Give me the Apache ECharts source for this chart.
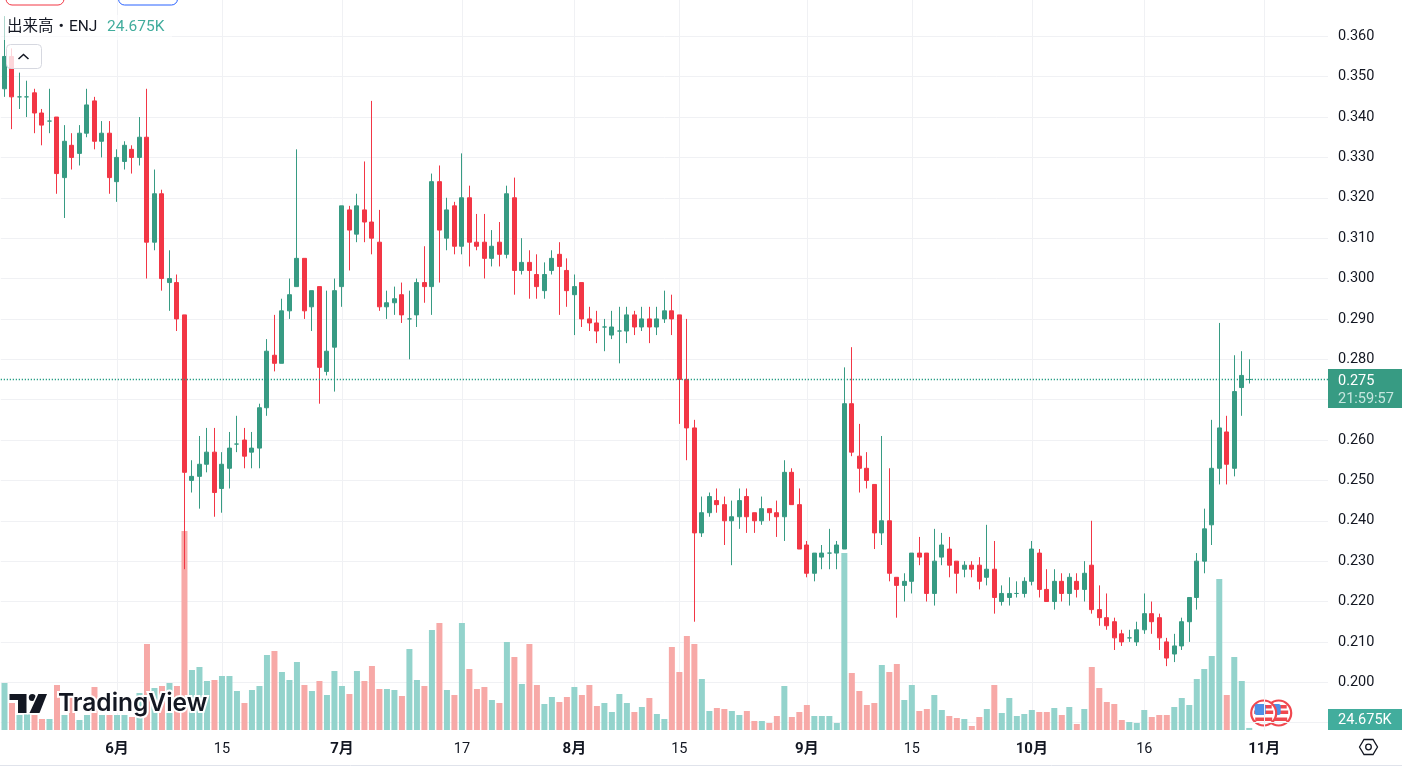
<!DOCTYPE html>
<html>
<head>
<meta charset="utf-8">
<style>
  html, body { margin: 0; padding: 0; background: #fff; }
  #chart { width: 1402px; height: 767px; }
</style>
<script src="https://cdn.jsdelivr.net/npm/echarts@6/dist/echarts.min.js"></script>
</head>
<body>
<div id="chart"></div>
<script>
// ENJ daily candles, first candle is May 17
const opens = [.347,.355,.345,.345,.346,.341,.339,.340,.325,.333,.331,.336,.344,.334,.336,.324,.329,.332,.330,.335,.309,.321,.299,.299,.291,.250,.251,.254,.257,.248,.253,.259,.260,.257,.258,.268,.281,.279,.292,.298,.305,.293,.298,.277,.283,.298,.317,.311,.317,.314,.309,.293,.294,.296,.290,.291,.299,.298,.324,.310,.318,.308,.320,.309,.309,.305,.309,.306,.320,.302,.304,.301,.297,.302,.306,.302,.296,.299,.290,.289,.288,.286,.287,.287,.291,.288,.290,.288,.290,.292,.291,.275,.263,.237,.242,.245,.244,.240,.241,.246,.242,.240,.243,.242,.241,.252,.244,.234,.227,.231,.232,.232,.233,.269,.256,.253,.249,.237,.240,.226,.224,.225,.232,.232,.222,.231,.233,.230,.228,.229,.229,.226,.228,.220,.221,.222,.222,.225,.232,.223,.220,.225,.222,.225,.223,.229,.218,.216,.215,.212,.211,.210,.213,.217,.216,.210,.207,.209,.215,.221,.230,.239,.253,.262,.253,.273,.275];
const closes = [.355,.345,.345,.345,.341,.338,.339,.326,.334,.330,.336,.343,.334,.336,.325,.330,.333,.330,.335,.309,.321,.300,.300,.290,.252,.251,.254,.257,.247,.254,.258,.259,.256,.258,.268,.282,.279,.292,.296,.305,.292,.297,.278,.282,.297,.318,.312,.318,.314,.310,.293,.294,.295,.291,.290,.299,.298,.324,.312,.317,.308,.320,.309,.308,.305,.308,.306,.321,.302,.304,.302,.298,.301,.305,.303,.297,.298,.290,.289,.287,.288,.288,.287,.291,.288,.290,.288,.290,.292,.290,.275,.263,.237,.242,.246,.244,.240,.241,.245,.241,.240,.243,.242,.241,.252,.244,.233,.227,.232,.232,.232,.234,.269,.257,.253,.250,.237,.240,.227,.224,.225,.232,.231,.222,.230,.234,.229,.227,.229,.228,.225,.228,.221,.222,.222,.222,.225,.233,.223,.220,.225,.222,.226,.223,.227,.218,.216,.214,.211,.210,.211,.213,.217,.215,.211,.206,.209,.215,.221,.230,.238,.253,.263,.254,.272,.276,.275];
const lows = [.345,.337,.342,.340,.336,.333,.336,.321,.315,.327,.328,.335,.332,.330,.321,.319,.327,.326,.328,.300,.307,.297,.292,.287,.228,.247,.243,.252,.241,.242,.248,.257,.253,.253,.253,.266,.277,.279,.290,.298,.290,.287,.269,.276,.272,.293,.302,.309,.309,.306,.292,.290,.291,.289,.280,.288,.294,.291,.299,.307,.306,.306,.303,.307,.300,.303,.303,.305,.296,.301,.295,.295,.295,.301,.291,.293,.286,.288,.287,.284,.282,.285,.279,.284,.286,.287,.284,.286,.289,.286,.264,.255,.215,.236,.241,.242,.234,.229,.238,.237,.237,.239,.240,.236,.235,.244,.233,.226,.225,.228,.228,.228,.233,.256,.247,.248,.233,.234,.225,.216,.220,.222,.229,.220,.219,.229,.226,.222,.226,.226,.223,.224,.217,.219,.219,.221,.221,.224,.221,.220,.218,.220,.219,.221,.220,.217,.214,.213,.208,.209,.210,.209,.212,.212,.208,.204,.205,.208,.210,.218,.227,.234,.249,.249,.251,.266,.274];
const highs = [.365,.357,.351,.349,.347,.342,.347,.340,.338,.336,.338,.347,.345,.339,.339,.332,.334,.333,.340,.347,.327,.322,.307,.301,.291,.255,.261,.263,.263,.257,.262,.266,.263,.262,.269,.285,.291,.295,.300,.332,.305,.297,.298,.297,.300,.318,.318,.321,.329,.344,.317,.297,.298,.299,.297,.300,.308,.326,.328,.320,.319,.331,.323,.316,.316,.312,.314,.323,.325,.310,.307,.306,.304,.307,.309,.305,.301,.299,.293,.292,.290,.292,.293,.293,.292,.293,.293,.293,.297,.296,.291,.290,.265,.246,.247,.248,.246,.245,.248,.248,.242,.246,.243,.245,.255,.253,.248,.235,.232,.234,.238,.235,.278,.283,.264,.257,.249,.261,.253,.226,.227,.232,.236,.232,.238,.237,.236,.230,.230,.230,.231,.239,.235,.224,.226,.225,.226,.235,.233,.228,.228,.227,.227,.227,.230,.240,.224,.222,.216,.213,.213,.215,.222,.220,.217,.211,.212,.216,.221,.232,.243,.265,.289,.266,.281,.282,.280];
const volumes = [564,324,180,204,180,132,132,540,180,432,120,180,516,180,180,180,180,156,444,1032,504,528,564,528,2388,720,756,588,600,648,648,468,324,480,528,900,948,696,600,816,540,468,588,420,708,528,432,708,588,768,492,492,480,408,972,600,528,1200,1284,480,420,1284,732,492,516,360,324,1056,876,552,1032,540,312,396,336,396,516,420,540,288,324,216,432,324,216,276,384,192,132,996,696,1128,1032,612,228,264,252,228,180,228,108,108,84,168,528,156,216,300,168,168,168,84,2124,684,468,300,324,780,696,792,360,540,228,252,420,240,168,144,132,48,156,252,540,204,384,168,192,240,216,216,264,180,276,72,252,756,504,336,312,120,96,84,240,156,180,180,276,384,300,612,732,888,1812,420,876,588,24.675];

const tickIndex = [15, 29, 45, 61, 76, 90, 107, 121, 137, 152, 168];
const tickLabels = ['6月', '15', '7月', '17', '8月', '15', '9月', '15', '10月', '16', '11月'];
const priceLabels = [.20, .21, .22, .23, .24, .25, .26, .28, .29, .30, .31, .32, .33, .34, .35, .36];
const priceLines = [.19, .20, .21, .22, .23, .24, .25, .26, .27, .28, .29, .30, .31, .32, .33, .34, .35, .36];
const lastPrice = 0.275;

// categories run past the last candle, up to the right edge of the plot
const categories = [];
for (let i = 0; i < 177; i++) {
  const d = new Date(2025, 4, 17 + i);
  categories.push((d.getMonth() + 1) + '/' + d.getDate());
}

const UP = '#379b83', DOWN = '#f23645';
const VOL_UP = '#93d3cc', VOL_DOWN = '#f7a9a7';
const INK = '#131722', GRID = '#f0f1f4';
const FONT = 'Roboto, "Noto Sans CJK JP", sans-serif';

const candleData = opens.map((o, i) => [o, closes[i], lows[i], highs[i]]);
const volumeData = volumes.map((v, i) => ({
  value: v,
  itemStyle: { color: closes[i] >= opens[i] ? VOL_UP : VOL_DOWN }
}));

const isTick = i => tickIndex.includes(i);

const chart = echarts.init(document.getElementById('chart'));

// flag badge, stripes are just short rects inside the circle
const flag = cx => ({
  type: 'group', x: cx, y: 713, z: 50, children: [
    { type: 'circle', shape: { r: 12.5 }, style: { fill: '#fff', stroke: '#f0484f', lineWidth: 2.2 } },
    { type: 'rect', shape: { x: -7, y: -8, width: 15, height: 3.5 }, style: { fill: '#f0484f' } },
    { type: 'rect', shape: { x: -9.5, y: -2.5, width: 19, height: 3.5 }, style: { fill: '#f0484f' } },
    { type: 'rect', shape: { x: -8.5, y: 4.5, width: 17, height: 3.5 }, style: { fill: '#f0484f' } },
    { type: 'rect', shape: { x: -9, y: -9, width: 11, height: 11, r: 2 }, style: { fill: '#4d8fe6' } }
  ]
});

const option = {
  animation: false,
  backgroundColor: '#fff',
  textStyle: { fontFamily: FONT },
  grid: { left: 0.75, right: 74, top: 0, bottom: 37 },
  xAxis: {
    type: 'category',
    data: categories,
    boundaryGap: true,
    axisLine: { show: false },
    axisTick: { show: false, alignWithLabel: true, interval: isTick },
    splitLine: { show: true, alignWithLabel: true, interval: isTick, lineStyle: { color: GRID, width: 1 } },
    axisLabel: {
      interval: isTick,
      margin: 12,
      fontSize: 14.5,
      color: INK,
      formatter: (value, index) => {
        const label = tickLabels[tickIndex.indexOf(index)];
        return label.endsWith('月') ? '{m|' + label + '}' : label;
      },
      rich: { m: { fontSize: 15, fontWeight: 700, color: INK, fontFamily: FONT } }
    }
  },
  yAxis: [
    {
      type: 'value',
      position: 'right',
      min: 0.18818,
      max: 0.36899,
      axisLine: { show: false },
      axisTick: { show: false, customValues: priceLines },
      splitLine: { show: true, lineStyle: { color: GRID, width: 1 } },
      axisLabel: {
        customValues: priceLabels,
        margin: 10,
        fontSize: 14.5,
        color: INK,
        padding: [3, 0, 0, 0],
        formatter: v => v.toFixed(3)
      }
    },
    {
      // volume scale, sits on the same plot but never shows
      type: 'value',
      min: 0,
      max: 8760,
      show: false,
      splitLine: { show: false }
    }
  ],
  series: [
    {
      name: 'volume',
      type: 'bar',
      yAxisIndex: 1,
      data: volumeData,
      barWidth: 6,
      z: 1,
      silent: true
    },
    {
      name: 'ENJ',
      type: 'candlestick',
      yAxisIndex: 0,
      data: candleData,
      barWidth: 4.5,
      z: 2,
      silent: true,
      itemStyle: {
        color: UP, color0: DOWN,
        borderColor: UP, borderColor0: DOWN, borderColorDoji: UP,
        borderWidth: 1
      },
      markLine: {
        silent: true,
        symbol: 'none',
        animation: false,
        precision: 3,
        lineStyle: { color: '#1f9a80', width: 1.4, type: [1.2, 1.8] },
        data: [{ yAxis: lastPrice }],
        label: {
          show: true,
          position: 'end',
          distance: 0,
          offset: [0, 9],
          formatter: '{p|' + lastPrice.toFixed(3) + '}\n{t|21:59:57}',
          backgroundColor: UP,
          padding: [3, 0, 0, 10],
          width: 64,
          height: 36,
          align: 'left',
          rich: {
            p: { color: '#fff', fontSize: 14.5, lineHeight: 18, fontFamily: FONT },
            t: { color: '#c6e6df', fontSize: 14.5, lineHeight: 18, fontFamily: FONT }
          }
        }
      }
    }
  ],
  graphic: [
    // header bits that stick out over the chart
    { type: 'rect', z: 40, shape: { x: 6, y: -20, width: 58, height: 25, r: 6 }, style: { fill: '#fff', stroke: '#f23645', lineWidth: 1 } },
    { type: 'rect', z: 40, shape: { x: 118.5, y: -20, width: 59, height: 25, r: 6 }, style: { fill: '#fff', stroke: '#2962ff', lineWidth: 1 } },
    { type: 'rect', z: 40, shape: { x: 0, y: 15, width: 172, height: 25 }, style: { fill: 'rgba(255,255,255,0.6)' } },
    { type: 'text', z: 41, x: 7, y: 27, style: { text: '出来高・ENJ', fill: INK, font: '15.5px ' + FONT, textVerticalAlign: 'middle' } },
    { type: 'text', z: 41, x: 107, y: 27, style: { text: '24.675K', fill: '#42ad9d', font: '15.5px ' + FONT, textVerticalAlign: 'middle' } },
    { type: 'rect', z: 40, shape: { x: 6.5, y: 44.5, width: 35, height: 24, r: 4 }, style: { fill: 'rgba(255,255,255,0.8)', stroke: '#d6d8e0', lineWidth: 1 } },
    { type: 'polyline', z: 41, shape: { points: [[18.5, 59], [23.5, 54.5], [28.5, 59]] }, style: { fill: 'none', stroke: INK, lineWidth: 1.5 } },

    // logo
    { type: 'text', z: 42, x: 58, y: 704, style: { text: 'TradingView', fill: INK, font: '600 24.5px Inter, ' + FONT, textVerticalAlign: 'middle', stroke: '#fff', lineWidth: 4 } },
    { type: 'polygon', z: 42, shape: { points: [[9.5, 694], [26.5, 694], [26.5, 713], [18, 713], [18, 700], [9.5, 700]] }, style: { fill: INK, stroke: '#fff', lineWidth: 3, strokeFirst: true } },
    { type: 'circle', z: 42, shape: { cx: 32.3, cy: 697.5, r: 3.5 }, style: { fill: INK, stroke: '#fff', lineWidth: 3, strokeFirst: true } },
    { type: 'polygon', z: 42, shape: { points: [[38.3, 694], [47, 694], [39.5, 713], [29.5, 713]] }, style: { fill: INK, stroke: '#fff', lineWidth: 3, strokeFirst: true } },

    flag(1278.7),
    flag(1263.7),

    // volume tag on the price scale
    { type: 'rect', z: 45, shape: { x: 1328, y: 709, width: 74, height: 21 }, style: { fill: '#42ad9d' } },
    { type: 'text', z: 46, x: 1338, y: 720, style: { text: '24.675K', fill: '#fff', font: '14.5px ' + FONT, textVerticalAlign: 'middle' } },

    // settings hexagon, bottom border
    { type: 'polygon', z: 45, shape: { points: [[1359.5, 747], [1364, 739.5], [1373, 739.5], [1377.5, 747], [1373, 754.5], [1364, 754.5]] }, style: { fill: 'none', stroke: INK, lineWidth: 1.3 } },
    { type: 'circle', z: 45, shape: { cx: 1368.5, cy: 747, r: 2.8 }, style: { fill: 'none', stroke: INK, lineWidth: 1.3 } },
    { type: 'line', z: 45, shape: { x1: 0, y1: 765.5, x2: 1402, y2: 765.5 }, style: { stroke: '#e0e3eb', lineWidth: 1 } }
  ]
};

chart.setOption(option);
</script>
</body>
</html>
